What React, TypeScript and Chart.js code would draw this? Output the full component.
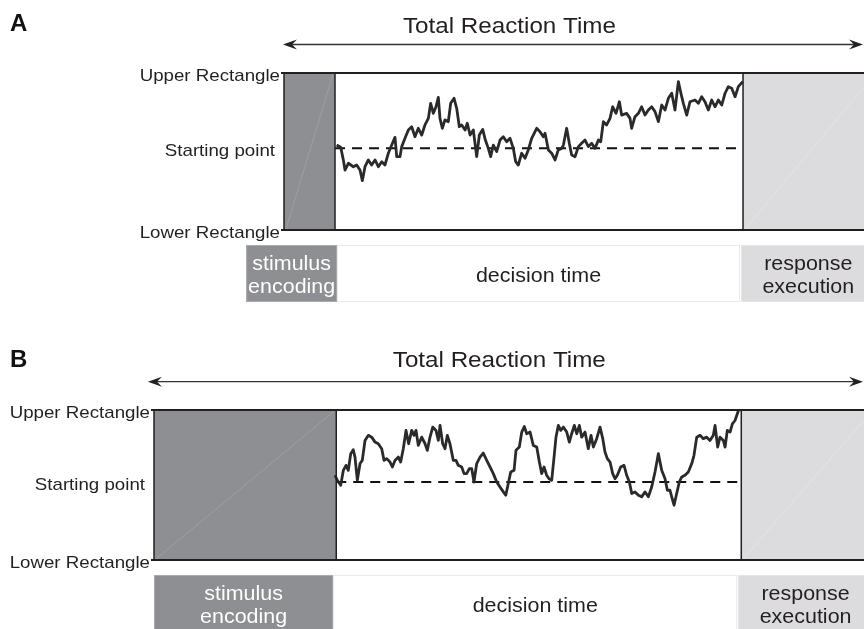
import React, { useEffect, useRef } from "react";
import { Chart, registerables } from "chart.js";

Chart.register(...registerables);

// ---------- DATA ----------
const titleText = "Total Reaction Time";
const boundLabels = ["Upper Rectangle", "Starting point", "Lower Rectangle"];
const barLabelLines = [["stimulus", "encoding"], ["decision time"], ["response", "execution"]];
const upperBound = 100;
const lowerBound = 0;
const startingPoint = 52;

// stage boundaries (time units): encoding start, decision start, decision end, response end
const stagesA = [0, 50, 450, 580];
const barStartsA = [-37, 52, 448];
const barEndsA = [52, 447, 580];

const stagesB = [0, 180, 580, 710];
const barStartsB = [0, 177, 577];
const barEndsB = [177, 576, 710];

const walkTimeA = [
  51.6, 55.6, 58.2, 59.8, 63.1, 68.0, 71.2, 74.5, 76.8, 79.4, 82.7, 85.9, 89.2, 92.5, 95.8,
  99.0, 102.3, 105.6, 108.8, 110.5, 113.7, 115.4, 118.6, 121.9, 125.2, 128.4, 131.7, 135.0, 138.2, 141.5,
  143.8, 146.4, 149.0, 151.3, 152.9, 155.2, 157.8, 161.1, 163.4, 166.7, 169.3, 171.9, 174.2, 177.5, 179.7,
  182.4, 185.6, 188.9, 191.5, 194.8, 197.4, 200.3, 202.6, 205.2, 208.5, 211.8, 215.0, 218.3, 221.6, 224.8,
  227.1, 229.7, 233.0, 236.3, 239.5, 242.8,
  247.7, 251.0, 254.2, 255.9, 259.2, 262.4, 265.7, 268.9, 272.2, 273.9, 277.1, 279.7, 282.0, 285.3, 288.6,
  291.8, 295.1, 298.4, 301.6, 304.9, 308.2, 310.5, 313.1, 316.3, 319.6, 322.2, 325.5, 328.8, 331.0, 335.9,
  339.2, 340.8, 344.1, 347.4, 350.6, 353.9, 357.2, 360.5, 363.7, 367.0, 370.3, 373.5, 376.8, 380.1, 383.3,
  386.6, 389.9, 391.5, 394.8, 398.0, 402.9, 406.2, 409.5, 412.7, 416.0, 419.3, 422.5, 425.8, 429.1, 432.4,
  435.6, 438.9, 442.2, 445.4, 449.7,
];
const walkEvidenceA = [
  54.1, 52.7, 44.6, 38.2, 42.5, 40.3, 41.4, 38.2, 31.4, 40.3, 44.6, 41.4, 44.6, 40.3, 43.5,
  41.4, 48.9, 54.1, 59.0, 46.7, 46.7, 53.1, 58.4, 63.7, 65.8, 59.4, 64.8, 60.5, 66.9, 71.1,
  80.7, 74.3, 78.5, 84.5, 71.1, 64.8, 70.1, 69.0, 80.7, 83.9, 77.5, 65.8, 66.9, 63.7, 68.0,
  60.5, 63.7, 46.7, 60.5, 64.1, 57.3, 52.0, 46.7, 54.1, 49.9, 57.3, 59.4, 56.2, 58.4, 52.0,
  43.5, 41.4, 48.9, 45.7, 51.0, 58.4,
  64.8, 62.6, 59.4, 61.6, 51.0, 48.9, 44.6, 51.0, 52.0, 54.1, 64.8, 55.2, 47.8, 46.7, 53.1,
  55.2, 57.3, 53.1, 55.2, 52.0, 57.3, 56.2, 69.0, 66.9, 71.1, 78.5, 74.3, 81.7, 73.2, 74.3,
  71.1, 64.8, 72.2, 74.3, 78.5, 73.2, 76.4, 78.5, 75.4, 69.0, 79.6, 76.4, 83.9, 87.1, 76.4,
  94.5, 84.9, 80.7, 73.2, 81.7, 82.8, 80.7, 84.9, 81.7, 76.4, 82.8, 78.5, 82.8, 79.6, 87.1,
  91.3, 90.3, 84.9, 91.3, 94.5,
];

const walkTimeB = [
  178.8, 181.0, 184.4, 187.0, 189.6, 191.9, 194.3, 196.8, 198.5, 200.8, 203.5, 205.7, 208.4, 211.7, 215.0,
  218.3, 221.5, 224.9, 227.2, 229.8, 233.1, 235.4, 238.0, 241.3, 243.6, 246.2, 248.9, 251.5, 254.5, 256.8,
  258.8, 261.0, 264.4, 267.7, 269.9, 272.6, 275.3, 278.5, 280.8, 282.5, 285.1, 287.4, 289.7, 292.3, 295.6,
  298.3, 300.5, 303.9, 306.2, 308.8, 311.4, 313.8, 316.0, 318.7, 322.0, 325.2, 328.6, 331.9, 335.1, 338.5,
  341.7, 345.0, 347.4, 349.9, 352.3, 355.6, 357.5, 360.8, 363.2, 365.7, 368.1, 371.4,
  374.6, 378.0, 380.6, 382.9, 385.2, 387.8, 390.1, 392.8, 395.1, 397.0, 399.3, 401.7, 404.3, 407.6, 410.2,
  412.5, 415.1, 417.5, 420.1, 422.4, 425.7, 428.9, 431.6, 433.9, 437.2, 440.5, 443.2, 445.4, 447.7, 450.4,
  453.0, 455.3, 457.6, 460.9, 464.2, 466.8, 469.5, 471.8, 475.1, 478.4, 481.6, 485.0, 488.2, 491.5, 494.8,
  498.1, 501.4, 504.7, 507.0, 509.6, 511.3, 513.6, 516.2, 518.8, 521.2, 524.4, 527.7, 531.1, 533.3, 536.0,
  539.3, 542.5, 545.9, 549.1, 552.4, 554.1, 556.7, 559.0, 562.3, 564.0, 566.2, 568.9, 571.2, 573.8, 577.4,
];
const walkEvidenceB = [
  56.5, 53.2, 49.8, 59.8, 63.1, 59.8, 70.9, 73.5, 68.6, 53.2, 64.3, 66.4, 79.7, 83.1, 81.9,
  78.6, 77.5, 74.2, 66.4, 67.6, 65.3, 62.0, 66.4, 68.6, 65.3, 74.2, 86.4, 77.5, 86.4, 83.1,
  86.4, 76.4, 81.9, 77.5, 73.1, 81.9, 88.6, 86.4, 79.7, 89.7, 77.5, 74.2, 83.1, 77.5, 66.4,
  66.4, 63.1, 62.0, 57.6, 57.6, 60.9, 60.9, 52.0, 64.3, 68.6, 71.3, 66.4, 62.0, 57.6, 52.0,
  48.7, 45.4, 43.2, 51.0, 58.7, 59.8, 73.1, 75.3, 85.3, 89.0, 84.2, 85.3,
  76.4, 75.3, 65.3, 57.6, 62.0, 56.5, 54.2, 53.2, 68.6, 81.9, 89.7, 86.4, 88.6, 85.3, 78.6,
  84.2, 89.7, 84.2, 89.7, 81.9, 85.3, 74.2, 83.1, 75.3, 80.9, 88.6, 80.9, 72.0, 67.6, 65.3,
  57.6, 54.2, 56.5, 62.0, 63.1, 56.5, 52.0, 44.3, 45.4, 43.2, 42.1, 45.4, 42.1, 48.7, 58.7,
  70.9, 59.8, 54.2, 46.5, 46.5, 42.1, 36.5, 44.3, 52.0, 55.4, 56.5, 58.7, 64.3, 69.8, 81.9,
  83.1, 80.9, 81.9, 79.7, 83.1, 89.7, 75.3, 81.9, 79.7, 75.3, 86.4, 85.3, 90.8, 93.0, 100.0,
];

// ---------- STYLE / LAYOUT ----------
const FONT = '"Liberation Sans", Arial, Helvetica, sans-serif';
const STRETCH = 1.1;
const INK = "#231f20";
const DARK_GREY = "#8e8f92";
const LIGHT_GREY = "#dcdcde";

interface PanelSpec {
  letter: string;
  stages: number[];
  barStarts: number[];
  barEnds: number[];
  walkTime: number[];
  walkEvidence: number[];
  height: number;
  padding: { left: number; top: number; right: number; bottom: number };
  xMax: number;
  titleX: number;
  titleRise: number;
  arrowStart: number;
  arrowRise: number;
  letterRise: number;
}

const panelA: PanelSpec = {
  letter: "A",
  stages: stagesA,
  barStarts: barStartsA,
  barEnds: barEndsA,
  walkTime: walkTimeA,
  walkEvidence: walkEvidenceA,
  height: 315,
  padding: { left: 284, top: 73, right: 0, bottom: 85 },
  xMax: 568.6,
  titleX: 221,
  titleRise: 40,
  arrowStart: -1,
  arrowRise: 28.5,
  letterRise: 42,
};

const panelB: PanelSpec = {
  letter: "B",
  stages: stagesB,
  barStarts: barStartsB,
  barEnds: barEndsB,
  walkTime: walkTimeB,
  walkEvidence: walkEvidenceB,
  height: 314,
  padding: { left: 154, top: 95, right: 0, bottom: 69 },
  xMax: 701.2,
  titleX: 341,
  titleRise: 43,
  arrowStart: -6,
  arrowRise: 28.3,
  letterRise: 43,
};

function drawText(
  ctx: CanvasRenderingContext2D,
  text: string,
  x: number,
  y: number,
  size: number,
  align: "left" | "center" | "right",
  color: string,
  weight = "normal",
  stretch = STRETCH
) {
  ctx.save();
  ctx.font = `${weight} ${size}px ${FONT}`;
  ctx.fillStyle = color;
  ctx.textAlign = "left";
  ctx.textBaseline = "alphabetic";
  const w = ctx.measureText(text).width * stretch;
  const left = align === "center" ? x - w / 2 : align === "right" ? x - w : x;
  ctx.translate(left, y);
  ctx.scale(stretch, 1);
  ctx.fillText(text, 0, 0);
  ctx.restore();
}

function arrowHead(ctx: CanvasRenderingContext2D, tipX: number, y: number, dir: number) {
  ctx.beginPath();
  ctx.moveTo(tipX, y);
  ctx.lineTo(tipX + dir * 14, y - 5);
  ctx.lineTo(tipX + dir * 9, y);
  ctx.lineTo(tipX + dir * 14, y + 5);
  ctx.closePath();
  ctx.fill();
}

function makePlugin(spec: PanelSpec) {
  return {
    id: "rtDiagram" + spec.letter,
    beforeDatasetsDraw(chart: any) {
      const ctx: CanvasRenderingContext2D = chart.ctx;
      const xs = chart.scales.x;
      const ys = chart.scales.y;
      const [s0, s1, s2, s3] = spec.stages;
      const yTop = ys.getPixelForValue(upperBound);
      const yBot = ys.getPixelForValue(lowerBound);
      const X = (t: number) => xs.getPixelForValue(t);
      ctx.save();
      ctx.fillStyle = "#ffffff";
      ctx.fillRect(X(s1), yTop, X(s2) - X(s1), yBot - yTop);
      // encoding box
      ctx.fillStyle = DARK_GREY;
      ctx.fillRect(X(s0), yTop, X(s1) - X(s0), yBot - yTop);
      ctx.strokeStyle = "#a5a6a9";
      ctx.lineWidth = 0.7;
      ctx.beginPath();
      ctx.moveTo(X(s0) + 2, yBot - 1);
      ctx.lineTo(X(s1) - 2, yTop + 1);
      ctx.stroke();
      // response box
      ctx.fillStyle = LIGHT_GREY;
      ctx.fillRect(X(s2), yTop, X(s3) - X(s2), yBot - yTop);
      ctx.strokeStyle = "#e8e8e9";
      ctx.beginPath();
      ctx.moveTo(X(s2) + 2, yBot - 1);
      ctx.lineTo(X(s3), yTop);
      ctx.stroke();

      // bottom stage bars
      const bTop = yBot + 15;
      const bBot = yBot + 72;
      const fills = [DARK_GREY, "#ffffff", LIGHT_GREY];
      const borders = ["#a9aaad", "#e9e9ea", "#e6e6e7"];
      for (let i = 0; i < 3; i++) {
        const x0 = X(spec.barStarts[i]);
        const x1 = X(spec.barEnds[i]);
        ctx.fillStyle = fills[i];
        ctx.fillRect(x0, bTop, x1 - x0, bBot - bTop);
        ctx.strokeStyle = borders[i];
        ctx.lineWidth = 1;
        ctx.strokeRect(x0 + 0.5, bTop + 0.5, x1 - x0 - 1, bBot - bTop - 1);
      }
      ctx.restore();
    },
    afterDatasetsDraw(chart: any) {
      const ctx: CanvasRenderingContext2D = chart.ctx;
      const xs = chart.scales.x;
      const ys = chart.scales.y;
      const [s0, s1, s2, s3] = spec.stages;
      const yTop = ys.getPixelForValue(upperBound);
      const yBot = ys.getPixelForValue(lowerBound);
      const yStart = ys.getPixelForValue(startingPoint);
      const X = (t: number) => xs.getPixelForValue(t);
      ctx.save();
      ctx.strokeStyle = INK;
      ctx.lineWidth = 2;
      ctx.beginPath();
      ctx.moveTo(X(s0) - 3, yTop);
      ctx.lineTo(X(s3) + 5, yTop);
      ctx.moveTo(X(s0) - 3, yBot);
      ctx.lineTo(X(s3) + 5, yBot);
      ctx.stroke();
      ctx.lineWidth = 1.5;
      ctx.beginPath();
      for (const s of [s0, s1, s2]) {
        ctx.moveTo(X(s), yTop);
        ctx.lineTo(X(s), yBot);
      }
      ctx.stroke();

      const lx = X(s0);
      drawText(ctx, boundLabels[0], lx - 4, yTop + 8, 17, "right", INK);
      drawText(ctx, boundLabels[1], lx - 9, yStart + 8, 17, "right", INK);
      drawText(ctx, boundLabels[2], lx - 4, yBot + 8, 17, "right", INK);

      drawText(ctx, titleText, X(spec.titleX), yTop - spec.titleRise, 22, "center", INK);
      const ay = yTop - spec.arrowRise;
      ctx.strokeStyle = "#333333";
      ctx.fillStyle = "#222222";
      ctx.lineWidth = 1.3;
      ctx.beginPath();
      ctx.moveTo(X(spec.arrowStart) + 6, ay);
      ctx.lineTo(863 - 6, ay);
      ctx.stroke();
      arrowHead(ctx, X(spec.arrowStart), ay, 1);
      arrowHead(ctx, 863, ay, -1);

      drawText(ctx, spec.letter, 10, yTop - spec.letterRise, 24, "left", "#111111", "bold", 1);

      const bTop = yBot + 15;
      const textColors = ["#ffffff", INK, INK];
      for (let i = 0; i < 3; i++) {
        const cx = (X(spec.barStarts[i]) + X(spec.barEnds[i])) / 2;
        const lines = barLabelLines[i];
        if (lines.length === 2) {
          drawText(ctx, lines[0], cx, bTop + 25, 19.5, "center", textColors[i]);
          drawText(ctx, lines[1], cx, bTop + 48, 19.5, "center", textColors[i]);
        } else {
          drawText(ctx, lines[0], cx, bTop + 37, 19.5, "center", textColors[i]);
        }
      }
      ctx.restore();
    },
  };
}

function Panel({ spec, top }: { spec: PanelSpec; top: number }) {
  const ref = useRef<HTMLCanvasElement | null>(null);
  useEffect(() => {
    if (!ref.current) return;
    const [, s1, s2] = spec.stages;
    const chart = new Chart(ref.current, {
      type: "line",
      data: {
        datasets: [
          {
            label: "evidence",
            data: spec.walkTime.map((t, i) => ({ x: t, y: spec.walkEvidence[i] })),
            borderColor: "#2a2a2a",
            borderWidth: 2.8,
            borderJoinStyle: "round",
            pointRadius: 0,
            tension: 0,
            fill: false,
            clip: false as any,
          },
          {
            label: "starting point",
            data: [
              { x: s1, y: startingPoint },
              { x: s2, y: startingPoint },
            ],
            borderColor: "#111111",
            borderWidth: 2,
            borderDash: [10, 7],
            pointRadius: 0,
            fill: false,
          },
        ],
      },
      options: {
        responsive: false,
        animation: false,
        devicePixelRatio: 1,
        layout: { padding: spec.padding },
        plugins: { legend: { display: false }, tooltip: { enabled: false }, title: { display: false } },
        scales: {
          x: { type: "linear", min: 0, max: spec.xMax, display: false },
          y: { type: "linear", min: lowerBound, max: upperBound, display: false },
        },
        events: [],
      },
      plugins: [makePlugin(spec)],
    });
    return () => chart.destroy();
  }, [spec]);
  return (
    <canvas
      ref={ref}
      width={864}
      height={spec.height}
      style={{ position: "absolute", left: 0, top, width: 864, height: spec.height, display: "block" }}
    />
  );
}

export default function App() {
  return (
    <div style={{ position: "fixed", left: 0, top: 0, width: 864, height: 629, background: "#ffffff", overflow: "hidden" }}>
      <Panel spec={panelA} top={0} />
      <Panel spec={panelB} top={315} />
    </div>
  );
}
